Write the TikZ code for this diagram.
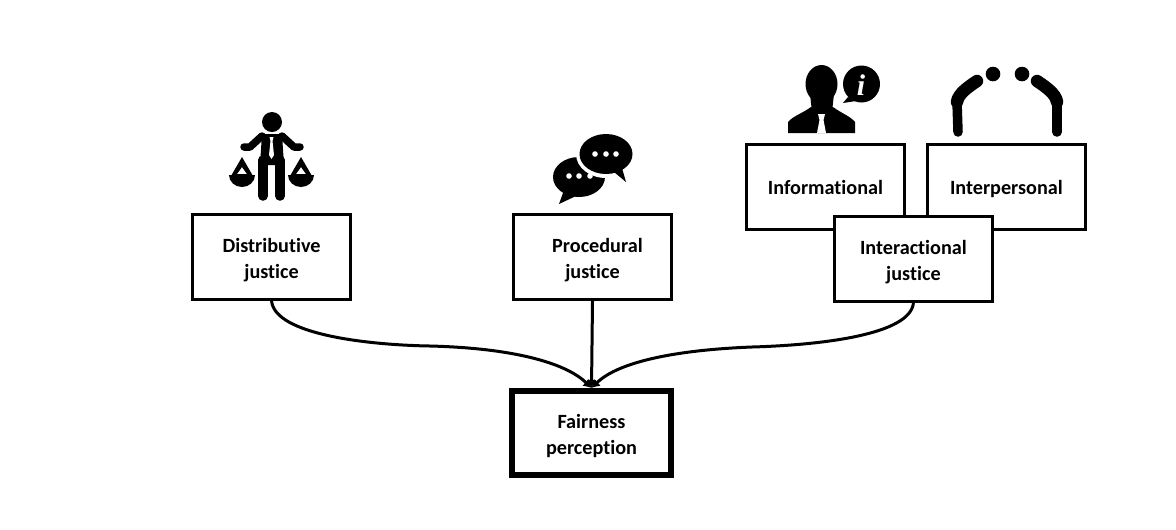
\documentclass[tikz,border=0pt]{standalone}
\usepackage{fontspec}
\setmainfont[Ligatures=NoCommon]{Carlito}
\newfontfamily\infofont{Liberation Serif}
\usetikzlibrary{positioning,arrows.meta}
\newcommand{\lift}{\rule[-3pt]{0pt}{14.5pt}}

\begin{document}
\begin{tikzpicture}[
    x = 0.02cm, y = -0.02cm,
    node distance = 1.74cm and 3.20cm,
    boxstyle/.style = {draw,
                       fill=white,
                       line width=0.06cm,
                       minimum width=3.16cm,
                       minimum height=1.70cm,
                       inner sep=0pt,
                       align=center,
                       font=\fontsize{11.5}{14.8}\selectfont\bfseries},
    mainstyle/.style = {boxstyle,
                        line width=0.12cm,
                        minimum width=3.18cm,
                        minimum height=1.68cm},
    arr/.style       = {line width=0.06cm,
                        -{Latex[length=1.6mm,width=2mm]}},
    limb/.style      = {line width=0.19cm,
                        line cap=round,
                        line join=round},
    trunk/.style     = {line width=0.25cm,
                        line cap=round,
                        line join=round},
    arm/.style       = {line width=0.15cm,
                        line cap=round,
                        line join=round}
]
\useasboundingbox (0,0) rectangle (1176,529);

\node (fair) [mainstyle] at (591.5,433) {\lift Fairness\\perception};
\node (proc) [boxstyle, above=of fair, xshift=0.02cm] {\lift\hspace*{0.2cm}Procedural\\justice};
\node (dist) [boxstyle, left=of proc] {\lift Distributive\\justice};
\node (info) [boxstyle, right=of proc, xshift=-1.76cm, yshift=1.41cm] {\lift Informational};
\node (pers) [boxstyle, right=0.40cm of info] {\lift Interpersonal};
\node (inter) [boxstyle, right=of proc, yshift=-0.04cm] {\lift Interactional\\justice};

\coordinate (midl) at (430,346);
\coordinate (midr) at (752,347);

\draw[arr] (dist.south) .. controls (275,335) and (370,345) .. (midl)
                        .. controls (510,348) and (565,362) .. (fair.north);
\draw[arr] (proc.south) -- (fair.north);
\draw[arr] (inter.south) .. controls (910,335) and (820,345) .. (midr)
                         .. controls (675,350) and (618,362) .. (fair.north);

% man with scales
\fill (272,122) circle (10);
\fill (262,134) -- (282,134) -- (284,165) -- (260,165) -- cycle;
\draw[arm] (244,147) -- (250,147) -- (262,136);
\draw[arm] (300,147) -- (294,147) -- (282,136);
\draw[limb] (263,160) -- (263,196);
\draw[limb] (280,160) -- (280,196);
\fill[white] (269.5,137) -- (273.5,137) -- (272.5,141) -- (274,155) -- (271.5,159) -- (269,155) -- (270.5,141) -- cycle;
\fill[white] (271,170) -- (272.5,170) -- (272.5,201) -- (271,201) -- cycle;
\foreach \px in {242,301} {
    \fill[even odd rule] (\px,157) -- (\px-11,176) -- (\px+11,176) -- cycle
        (\px,167) -- (\px-5,174) -- (\px+5,174) -- cycle;
    \fill (\px-13,175) -- (\px+13,175) arc (0:180:13 and 12) -- cycle;
}

% speech bubbles
\fill (579,177) ellipse (26 and 20);
\fill (563,193) -- (559,204) -- (576,196) -- cycle;
\foreach \px in {569,579,590} \fill[white] (\px,176) circle (2.8);
\fill[white] (606,154) ellipse (30 and 24);
\fill (606,154) ellipse (26.5 and 20);
\fill (614,172) -- (626,182) -- (622,168) -- cycle;
\foreach \px in {595,606,616} \fill[white] (\px,154) circle (2.8);

% person with info bubble
\fill (821.5,84) ellipse (16 and 19);
\fill (810,94) -- (834,94) -- (832,112) -- (812,112) -- cycle;
\fill (788,133) -- (788,122) .. controls (793,116) and (803,113) .. (811,107)
      -- (833,107) .. controls (841,113) and (850,116) .. (855,122) -- (855,133) -- cycle;
\fill[white] (818,114) -- (825,114) -- (823.5,120) -- (826,133) -- (817,133) -- (819.5,120) -- cycle;
\fill (861.5,84) circle (18.5);
\fill (848,97) -- (843,103) -- (856,101) -- cycle;
\node (infoi) [text=white, inner sep=0pt, font=\fontsize{17}{17}\infofont\bfseries\itshape] at (861,85) {i};

% bowing figures
\fill (993,74) circle (7.3);
\fill (1022,74) circle (7.3);
\draw[limb] (958,132) -- (957,102);
\draw[limb] (1057,132) -- (1057,102);
\draw[trunk] (957,102) .. controls (958,94) and (968,87) .. (977,81);
\draw[trunk] (1057,102) .. controls (1056,94) and (1046,87) .. (1037,81);
\end{tikzpicture}
\end{document}
